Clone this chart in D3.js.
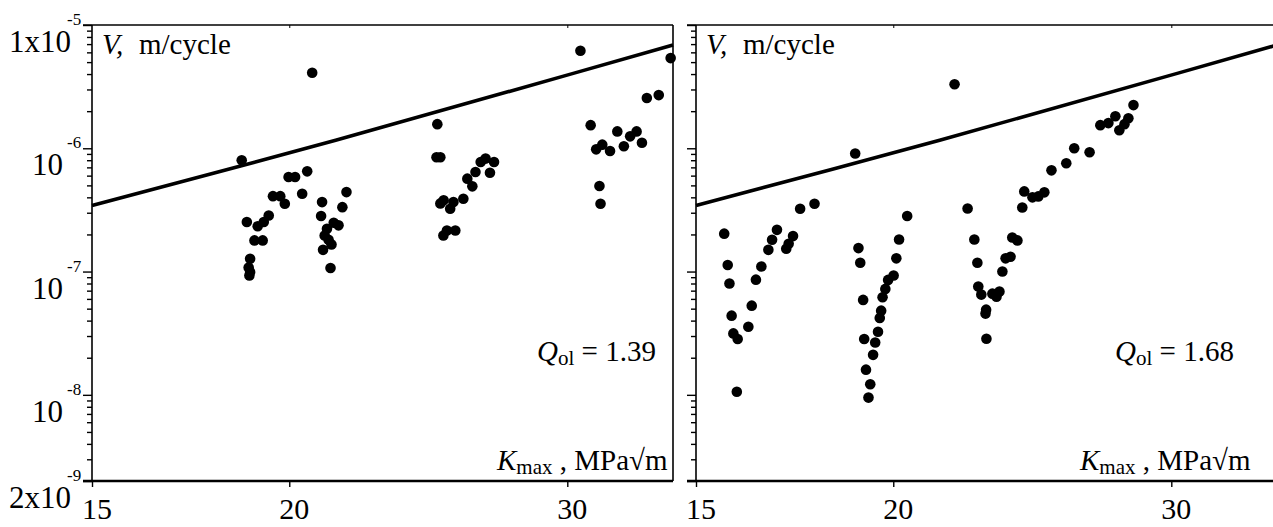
<!DOCTYPE html>
<html>
<head>
<meta charset="utf-8">
<script src="https://cdn.jsdelivr.net/npm/d3@7"></script>
<style>
  body { margin: 0; background: #fff; }
  svg { display: block; }
</style>
</head>
<body>
<div id="chart"></div>
<script>
// K_max (MPa*sqrt(m)) and V (m/cycle)
var leftK = [18.66, 19.98, 20.17, 20.53, 19.53, 19.74, 19.87, 20.38, 18.80, 19.10, 19.27, 19.41,
  19.01, 19.24, 18.89, 18.85, 18.89, 18.87, 21.74, 20.98, 21.61, 20.95, 21.34, 21.49, 21.13,
  21.06, 21.18, 21.27, 21.01, 21.24, 20.68,
  24.82, 24.79, 24.93, 25.05, 24.93, 25.41, 25.78, 25.29, 25.17, 25.48, 25.04, 25.93, 26.12,
  26.24, 26.44, 26.63, 26.96, 26.80,
  30.58, 34.88, 33.69, 34.28, 31.04, 32.27, 33.19, 32.88, 33.45, 32.58, 31.29, 31.57, 31.93,
  31.44, 31.49];
var leftV = [8.0e-7, 5.84e-7, 5.84e-7, 6.5e-7, 4.09e-7, 4.09e-7, 3.55e-7, 4.28e-7, 2.52e-7, 2.33e-7,
  2.52e-7, 2.85e-7, 1.79e-7, 1.79e-7, 1.27e-7, 1.08e-7, 9.9e-8, 9.3e-8, 4.41e-7, 3.66e-7, 3.33e-7,
  2.82e-7, 2.49e-7, 2.37e-7, 2.22e-7, 1.96e-7, 1.81e-7, 1.66e-7, 1.5e-7, 1.07e-7, 4.1e-6,
  1.57e-6, 8.45e-7, 8.45e-7, 3.78e-7, 3.57e-7, 3.66e-7, 3.9e-7, 3.23e-7, 2.15e-7, 2.15e-7,
  1.96e-7, 5.67e-7, 4.91e-7, 6.42e-7, 7.74e-7, 8.25e-7, 7.74e-7, 6.34e-7,
  6.18e-6, 5.39e-6, 2.56e-6, 2.7e-6, 1.54e-6, 1.37e-6, 1.37e-6, 1.25e-6, 1.11e-6, 1.04e-6,
  9.8e-7, 1.07e-6, 9.5e-7, 4.94e-7, 3.55e-7];

var rightK = [15.63, 15.71, 15.75, 15.80, 15.84, 15.94, 15.92, 16.19, 16.27, 16.37, 16.50, 16.67,
  16.76, 16.88, 17.11, 17.17, 17.28, 17.46, 17.83,
  18.92, 20.41, 20.17, 19.01, 19.06, 20.09, 20.01, 19.85, 19.77, 19.69, 19.14, 19.65, 19.61,
  19.56, 19.17, 19.48, 19.42, 19.22, 19.34, 19.29,
  21.87, 22.29, 22.51, 22.61, 22.64, 22.74, 22.88, 22.90, 22.91, 23.11, 23.25, 23.35, 23.45,
  23.56, 23.73, 23.79, 23.97, 24.14, 24.21, 24.50, 24.71, 24.93, 25.19, 25.74, 26.04, 26.63,
  27.05, 27.37, 27.65, 27.81, 28.02, 28.18, 28.39];
var rightV = [2.03e-7, 1.13e-7, 8.0e-8, 4.39e-8, 3.15e-8, 2.84e-8, 1.06e-8, 3.57e-8, 5.29e-8,
  8.6e-8, 1.1e-7, 1.5e-7, 1.81e-7, 2.18e-7, 1.53e-7, 1.68e-7, 1.94e-7, 3.23e-7, 3.55e-7,
  9.06e-7, 2.82e-7, 1.82e-7, 1.55e-7, 1.18e-7, 1.28e-7, 9.3e-8, 8.56e-8, 7.23e-8, 6.18e-8,
  5.89e-8, 4.82e-8, 4.2e-8, 3.25e-8, 2.84e-8, 2.66e-8, 2.11e-8, 1.6e-8, 1.22e-8, 9.5e-9,
  3.31e-6, 3.25e-7, 1.82e-7, 1.18e-7, 7.55e-8, 6.5e-8, 4.56e-8, 4.91e-8, 2.85e-8, 6.62e-8,
  6.26e-8, 6.88e-8, 1.0e-7, 1.28e-7, 1.32e-7, 1.89e-7, 1.79e-7, 3.31e-7, 4.47e-7, 4.0e-7,
  4.07e-7, 4.39e-7, 6.62e-7, 7.55e-7, 1.0e-6, 9.28e-7, 1.54e-6, 1.6e-6, 1.82e-6, 1.4e-6,
  1.57e-6, 1.75e-6, 2.24e-6];

// upper bound curve, same in both panels
var lineK = [15, 18.3, 21.4, 30.3, 35];
var lineV = [3.44e-7, 6.75e-7, 1.16e-6, 4.07e-6, 6.88e-6];

var xTicks = [15, 20, 30];
var yMajor = [1e-5, 1e-6, 1e-7, 1e-8, 2e-9];
var yLabelMain = ["1x10", "10", "10", "10", "2x10"];
var yLabelExp = ["-5", "-6", "-7", "-8", "-9"];
var qLabels = ["1.39", "1.68"];

var W = 1273, H = 527;
var pw = 581, ph = 456, padTop = 25;
var serif = "'Liberation Serif', 'Times New Roman', 'DejaVu Serif', serif";

var svg = d3.select("#chart").append("svg")
  .attr("width", W)
  .attr("height", H)
  .attr("font-family", serif);

var panels = [
  {x0: 92, K: leftK, V: leftV, q: qLabels[0], labels: true, border: true, qx: 445, kx: 405},
  {x0: 696, K: rightK, V: rightV, q: qLabels[1], labels: false, border: false, qx: 419, kx: 384}
];

panels.forEach(function(p)
{
  var x = d3.scaleLog().domain([15, 35]).range([0, pw]);
  var y = d3.scaleLog().domain([2e-9, 1e-5]).range([ph, 0]);

  var g = svg.append("g")
    .attr("transform", "translate(" + p.x0 + "," + padTop + ")");

  // y ticks (outside, to the left)
  var minor = y.ticks().filter(function(v)
  {
    return yMajor.every(function(m) { return Math.abs(Math.log10(m) - Math.log10(v)) > 1e-6; });
  });
  g.append("g")
    .call(d3.axisLeft(y).tickValues(minor).tickSize(5).tickFormat(""))
    .call(function(a) { a.select(".domain").remove(); })
    .selectAll("line").attr("stroke-width", 1.4);
  g.append("g")
    .call(d3.axisLeft(y).tickValues(yMajor).tickSize(9).tickFormat(""))
    .call(function(a) { a.select(".domain").remove(); })
    .selectAll("line").attr("stroke-width", 1.4);

  // x ticks
  g.append("g")
    .attr("transform", "translate(0," + ph + ")")
    .call(d3.axisBottom(x).tickValues(xTicks).tickSize(6).tickFormat(""))
    .call(function(a) { a.select(".domain").remove(); })
    .selectAll("line").attr("stroke-width", 1.4);
  g.append("g")
    .call(d3.axisBottom(x).tickValues(xTicks.slice(1)).tickSize(3).tickFormat(""))
    .call(function(a) { a.select(".domain").remove(); })
    .selectAll("line").attr("stroke-width", 1);

  // frame
  g.append("line").attr("x1", 0).attr("x2", 0).attr("y1", 0).attr("y2", ph)
    .attr("stroke", "#000").attr("stroke-width", 1.6);
  g.append("line").attr("x1", -9).attr("x2", pw).attr("y1", ph).attr("y2", ph)
    .attr("stroke", "#000").attr("stroke-width", 2.4);
  g.append("line").attr("x1", -9).attr("x2", pw).attr("y1", 0).attr("y2", 0)
    .attr("stroke", "#000").attr("stroke-width", 1.4);
  if(p.border)
    g.append("line").attr("x1", pw).attr("x2", pw).attr("y1", 0).attr("y2", ph)
      .attr("stroke", "#000").attr("stroke-width", 1.6);

  // x tick labels
  g.selectAll(".xl")
    .data(xTicks)
    .enter()
    .append("text")
    .attr("x", function(d) { return x(d) + 5; })
    .attr("y", ph + 38)
    .attr("text-anchor", "middle")
    .attr("font-size", 30)
    .text(function(d) { return d; });

  // y tick labels
  if(p.labels)
  {
    yMajor.forEach(function(v, i)
    {
      var main = yLabelMain[i];
      g.append("text")
        .attr("x", main.length > 2 ? -21 : -29)
        .attr("y", y(v) + 27)
        .attr("text-anchor", "end")
        .attr("font-size", 31)
        .text(main);
      g.append("text")
        .attr("x", -25)
        .attr("y", y(v))
        .attr("font-size", 17)
        .text(yLabelExp[i]);
    });
  }

  // curve
  g.append("path")
    .datum(lineK)
    .attr("fill", "none")
    .attr("stroke", "#000")
    .attr("stroke-width", 3.6)
    .attr("d", d3.line()
      .x(function(d) { return x(d); })
      .y(function(d, i) { return y(lineV[i]); }));

  // points
  g.selectAll("circle")
    .data(p.K)
    .enter()
    .append("circle")
    .attr("cx", function(d) { return x(d); })
    .attr("cy", function(d, i) { return y(p.V[i]); })
    .attr("r", 5.3)
    .attr("fill", "#000");

  // titles
  var vt = g.append("text").attr("x", 10).attr("y", 29).attr("font-size", 29);
  vt.append("tspan").attr("font-style", "italic").text("V,");
  vt.append("tspan").attr("x", 47).text("m/cycle");

  var qt = g.append("text").attr("x", p.qx).attr("y", 336).attr("font-size", 29);
  qt.append("tspan").attr("font-style", "italic").text("Q");
  qt.append("tspan").attr("font-size", 21).attr("dy", 4).text("ol");
  qt.append("tspan").attr("dy", -4).text(" = " + p.q);

  var kt = g.append("text").attr("x", p.kx).attr("y", 445).attr("font-size", 29);
  kt.append("tspan").attr("font-style", "italic").text("K");
  kt.append("tspan").attr("font-size", 21).attr("dy", 4).text("max");
  kt.append("tspan").attr("dy", -4).text(" ,  MPa\u221Am");
});
</script>
</body>
</html>
